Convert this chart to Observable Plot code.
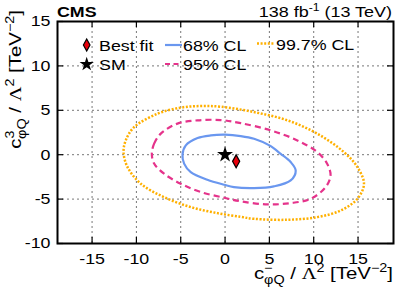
<!DOCTYPE html>
<html>
<head>
<meta charset="utf-8">
<script src="https://cdn.jsdelivr.net/npm/d3@7"></script>
<script src="https://cdn.jsdelivr.net/npm/@observablehq/plot@0.6"></script>
<style>
html,body{margin:0;padding:0;background:#fff;}
#chart svg{display:block;}
</style>
</head>
<body>
<div id="chart"></div>
<script>
const xTicks = [-15, -10, -5, 0, 5, 10, 15];
const yTicks = [-10, -5, 0, 5, 10, 15];
const xDomain = [-18.9, 19];
const yDomain = [-10, 15];

const bestFit = [{x: 1.25, y: -0.75}];
const sm = [{x: 0, y: 0}];

// contour points (closed loops)
const cl68 = [
  [-4.8, 0.0], [-4.43, 1.05], [-3.1, 1.87], [-1.6, 2.17], [0.0, 2.25], [1.77, 2.1],
  [3.27, 1.8], [5.0, 1.05], [6.28, 0.1], [7.4, -0.83], [7.97, -1.8], [7.4, -2.9],
  [5.5, -3.57], [3.27, -3.76], [1.0, -3.65], [-0.1, -3.38], [-2.0, -2.82],
  [-3.87, -1.96], [-4.62, -1.0]
];
const cl95 = [
  [-8.26, 0.1], [-8.0, 1.24], [-7.25, 2.37], [-5.37, 3.5], [-3.1, 3.87], [-0.48, 3.9],
  [1.77, 3.55], [5.15, 2.74], [8.16, 1.61], [10.4, 0.3], [11.5, -1.0], [11.9, -2.33],
  [11.35, -3.65], [9.66, -4.96], [7.4, -5.45], [4.78, -5.6], [1.77, -5.25],
  [-0.1, -4.85], [-2.74, -4.2], [-5.0, -3.27], [-6.88, -2.14], [-8.0, -1.0]
];
const cl997 = [
  [-11.45, 0.3], [-11.2, 1.61], [-10.26, 3.1], [-7.6, 4.62], [-5.0, 5.3], [-2.74, 5.48],
  [-0.48, 5.4], [3.27, 4.8], [7.03, 3.87], [10.4, 2.37], [13.4, 0.3], [14.93, -1.4],
  [15.67, -3.27], [14.93, -4.96], [13.04, -6.28], [10.4, -7.03], [7.03, -7.33],
  [3.27, -7.22], [1.77, -7.0], [-0.86, -6.58], [-3.87, -5.9], [-6.88, -4.78],
  [-9.5, -3.27], [-11.0, -1.4]
];

const seriesNames = ["68% CL", "95% CL", "99.7% CL"];
const pointNames = ["Best fit", "SM"];

const FONT = "'Liberation Sans', Arial, Helvetica, sans-serif";
const C68 = "#6a97ef", C95 = "#e5338b", C997 = "#ffb000", CRED = "#e8000b";
const SX = 1.15; // horizontal text stretch seen in the reference

const W = 399, H = 295, ML = 57, MR = 6, MT = 21, MB = 52;
const FW = W - ML - MR, FH = H - MT - MB, TICK = 6;

const tallDiamond = {
  draw(context, size) {
    const r = Math.sqrt(size / Math.PI);
    const w = r * 0.55;
    context.moveTo(0, -r);
    context.lineTo(w, 0);
    context.lineTo(0, r);
    context.lineTo(-w, 0);
    context.closePath();
  }
};

const gridStyle = {stroke: "#777", strokeOpacity: 1, strokeDasharray: "2,3", strokeWidth: 1};
const tickStyle = {stroke: "black", strokeWidth: 1.2, strokeOpacity: 1};
const px = d => d[0], py = d => d[1];
const id = d => d;

const plot = Plot.plot({
  width: W, height: H,
  marginLeft: ML, marginRight: MR, marginTop: MT, marginBottom: MB,
  style: {fontFamily: FONT, fontSize: "15.5px", color: "black", background: "white"},
  x: {domain: xDomain},
  y: {domain: yDomain},
  marks: [
    Plot.gridX(xTicks, gridStyle),
    Plot.gridY(yTicks, gridStyle),
    Plot.line(cl997, {x: px, y: py, curve: "catmull-rom-closed", stroke: C997, strokeWidth: 2.5, strokeDasharray: "2,1.6", strokeLinecap: "butt"}),
    Plot.line(cl95, {x: px, y: py, curve: "catmull-rom-closed", stroke: C95, strokeWidth: 2.2, strokeDasharray: "6,4", strokeLinecap: "butt"}),
    Plot.line(cl68, {x: px, y: py, curve: "catmull-rom-closed", stroke: C68, strokeWidth: 2.2}),
    Plot.dot(sm, {x: "x", y: "y", symbol: "star", r: 5, fill: "black"}),
    Plot.dot(bestFit, {x: "x", y: "y", symbol: tallDiamond, r: 6.5, fill: CRED, stroke: "black", strokeWidth: 1.2}),
    // inward tick marks on all four sides
    Plot.tickX(xTicks, {x: id, insetTop: FH - TICK, ...tickStyle}),
    Plot.tickX(xTicks, {x: id, insetBottom: FH - TICK, ...tickStyle}),
    Plot.tickY(yTicks, {y: id, insetRight: FW - TICK, ...tickStyle}),
    Plot.tickY(yTicks, {y: id, insetLeft: FW - TICK, ...tickStyle}),
    Plot.axisX(xTicks, {anchor: "bottom", tickSize: 0, tickPadding: 9, label: null, tickFormat: d => String(d)}),
    Plot.axisY(yTicks, {anchor: "left", tickSize: 0, tickPadding: 7, label: null, tickFormat: d => String(d)}),
    Plot.frame({stroke: "black", strokeWidth: 2})
  ]
});
document.getElementById("chart").appendChild(plot);

const svg = d3.select(plot);
// stretch tick labels horizontally like the reference
svg.selectAll('g[aria-label="x-axis tick label"] text, g[aria-label="y-axis tick label"] text')
  .attr("transform", function() { const t = this.getAttribute("transform") || ""; return t + ` scale(${SX},1)`; });

const g = svg.append("g").attr("font-family", FONT).attr("fill", "black").attr("text-anchor", "start");

function label(x, y, size, str, opts = {}) {
  const t = g.append("text")
    .attr("transform", `translate(${x},${y}) scale(${opts.sx || SX},1)`)
    .attr("font-size", size)
    .attr("text-anchor", opts.anchor || "start");
  if (opts.bold) t.attr("font-weight", "bold");
  if (str != null) t.text(str);
  return t;
}

// header
label(57, 17, 15.5, "CMS", {bold: true});
const lumi = label(392, 17, 15.5, null, {anchor: "end", sx: 1.16});
lumi.append("tspan").text("138 fb");
lumi.append("tspan").attr("font-size", 10.5).attr("dy", -6).text("-1");
lumi.append("tspan").attr("dy", 6).text(" (13 TeV)");

// legend
g.append("path").attr("transform", "translate(86.7,45)")
  .attr("d", d3.symbol(tallDiamond, Math.PI * 36)()).attr("fill", CRED).attr("stroke", "black").attr("stroke-width", 1.2);
g.append("path").attr("transform", "translate(86.7,64.3)")
  .attr("d", d3.symbol(d3.symbolStar, Math.PI * 20)()).attr("fill", "black");
label(99, 50.5, 15.5, pointNames[0]);
label(99, 69.5, 15.5, pointNames[1]);

g.append("line").attr("x1", 165).attr("x2", 182).attr("y1", 45).attr("y2", 45).attr("stroke", C68).attr("stroke-width", 2.2);
label(183, 50.5, 15.5, seriesNames[0]);
g.append("line").attr("x1", 165).attr("x2", 182).attr("y1", 64).attr("y2", 64).attr("stroke", C95).attr("stroke-width", 2.2).attr("stroke-dasharray", "5,3.5");
label(183, 69.5, 15.5, seriesNames[1]);
g.append("line").attr("x1", 257).attr("x2", 275).attr("y1", 43.5).attr("y2", 43.5).attr("stroke", C997).attr("stroke-width", 2.5).attr("stroke-dasharray", "2,1.6");
label(276, 49.5, 15.5, seriesNames[2]);

// axis titles
function axisTitle(sel, sup) {
  sel.append("tspan").text("c");
  sel.append("tspan").attr("font-size", 12).attr("dy", -7).text(sup);
  sel.append("tspan").attr("font-size", 12).attr("dx", -7).attr("dy", 12).text("\u03C6Q");
  sel.append("tspan").attr("dy", -5).text(" / ");
  sel.append("tspan").attr("font-family", "'Liberation Serif', 'Times New Roman', serif").text("\u039B");
  sel.append("tspan").attr("font-size", 12).attr("dy", -7).text("2");
  sel.append("tspan").attr("dy", 7).text(" [TeV");
  sel.append("tspan").attr("font-size", 12).attr("dy", -7).text("\u22122");
  sel.append("tspan").attr("dy", 7).text("]");
}
const xt = g.append("text").attr("transform", "translate(393,279) scale(1.2,1)").attr("font-size", 17).attr("text-anchor", "end");
axisTitle(xt, "\u2212");
const yt = g.append("text").attr("transform", "translate(21,10) rotate(-90) scale(1.2,1)").attr("font-size", 17).attr("text-anchor", "end");
axisTitle(yt, "3");
</script>
</body>
</html>
